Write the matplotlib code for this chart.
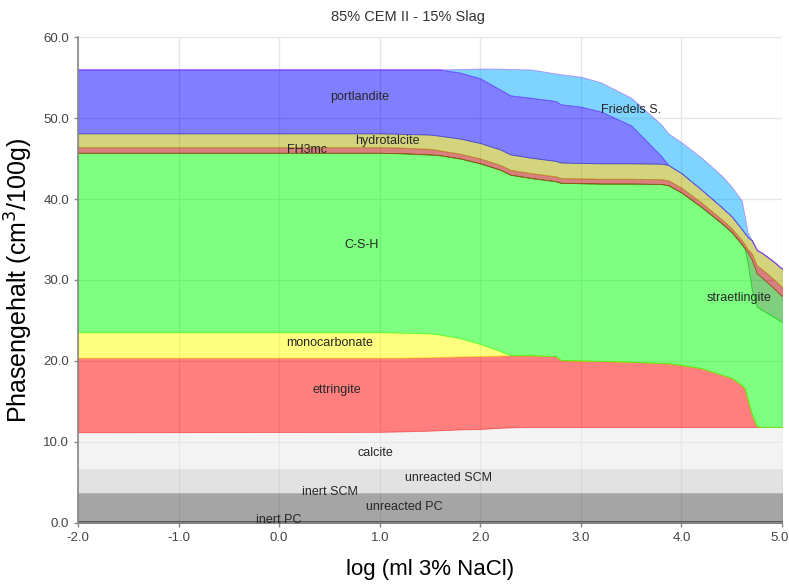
import numpy as np
import matplotlib
matplotlib.use('Agg')
import matplotlib.pyplot as plt
import matplotlib.transforms as mtransforms

plt.rcParams['font.family'] = ['Liberation Sans', 'DejaVu Sans']

# x positions: log (ml 3% NaCl)
log_nacl = [-2.0, 1.0, 1.2, 1.5, 1.6, 1.8, 2.0, 2.2, 2.3, 2.5, 2.75, 2.8, 3.0, 3.2,
            3.5, 3.8, 3.87, 4.0, 4.2, 4.4, 4.5, 4.6, 4.63, 4.66, 4.7, 4.75, 4.8, 4.9, 5.0]

# phase contents (cm3/100g), bottom to top
inert_pc = [0.3] * 29
unreacted_pc = [3.35] * 29
inert_scm = [0.05] * 29
unreacted_scm = [2.95] * 29
calcite = [4.55, 4.6, 4.65, 4.75, 4.8, 4.9, 4.95, 5.1, 5.15, 5.2, 5.2, 5.2, 5.2, 5.2,
           5.2, 5.2, 5.2, 5.2, 5.2, 5.2, 5.2, 5.2, 5.2, 5.2, 5.2, 5.2, 5.2, 5.2, 5.2]
ettringite = [9.2, 9.15, 9.1, 9.05, 9.05, 9.0, 9.0, 8.9, 8.9, 8.85, 8.75, 8.25, 8.2, 8.15,
              8.05, 7.9, 7.85, 7.65, 7.25, 6.45, 6.05, 5.15, 4.75, 3.35, 1.55, 0.1, 0.0, 0.0, 0.0]
monocarbonate = [3.15, 3.15, 3.1, 2.95, 2.75, 2.25, 1.5, 0.55, 0.0, 0.0, 0.0, 0.0, 0.0, 0.0,
                 0.0, 0.0, 0.0, 0.0, 0.0, 0.0, 0.0, 0.0, 0.0, 0.0, 0.0, 0.0, 0.0, 0.0, 0.0]
csh = [22.15, 22.15, 22.15, 22.1, 22.15, 22.2, 22.3, 22.4, 22.3, 21.9, 21.6, 21.9, 21.9, 21.9,
       22.0, 22.1, 22.0, 21.3, 19.9, 18.7, 18.0, 17.4, 17.3, 16.8, 15.4, 14.75, 14.45, 13.75, 12.95]
straetlingite = [0.0] * 23 + [1.4, 3.7, 4.1, 4.0, 3.6, 3.2]
fh3mc = [0.7, 0.7, 0.7, 0.7, 0.6, 0.6, 0.6, 0.6, 0.6, 0.6, 0.6, 0.6, 0.6, 0.6,
         0.6, 0.6, 0.6, 0.6, 0.55, 0.5, 0.5, 0.5, 0.5, 0.4, 0.8, 1.0, 1.05, 1.1, 1.15]
hydrotalcite = [1.7, 1.7, 1.7, 1.75, 1.8, 1.85, 1.9, 1.9, 1.9, 1.9, 1.9, 1.9, 1.9, 1.9,
                1.9, 1.9, 1.9, 1.8, 1.6, 1.5, 1.45, 1.4, 1.4, 1.5, 1.6, 1.9, 2.0, 2.15, 2.25]
portlandite = [7.9, 7.9, 7.95, 8.05, 8.2, 8.15, 8.0, 7.4, 7.3, 7.4, 7.4, 7.2, 6.95, 6.4,
               4.7, 0.95, 0.0, 0.0, 0.0, 0.0, 0.0, 0.0, 0.0, 0.0, 0.0, 0.0, 0.0, 0.0, 0.0]
friedels = [0.0, 0.0, 0.0, 0.0, 0.0, 0.45, 1.2, 2.6, 3.25, 3.5, 3.4, 3.7, 3.7, 3.6,
            3.4, 3.9, 3.9, 3.8, 3.95, 3.9, 3.65, 3.5, 2.0, 0.5, 0.0, 0.0, 0.0, 0.0, 0.0]

phases = [inert_pc, unreacted_pc, inert_scm, unreacted_scm, calcite, ettringite,
          monocarbonate, csh, straetlingite, fh3mc, hydrotalcite, portlandite, friedels]
colors = ['#000000', '#4d4d4d', '#a0a0a0', '#c7c7c7', '#e9e9e9', '#ff0000',
          '#ffff00', '#00ff00', '#00a100', '#b30000', '#aaaa00', '#0000ff', '#00aaff']
edge_colors = ['#000000', '#4d4d4d', '#a0a0a0', '#c7c7c7', '#e9e9e9', '#ff0000',
               '#ffff00', '#00ff00', '#00c000', '#cc0000', '#aaaa00', '#0000ff', '#9933ff']

# labels and where they sit
label_names = ['inert PC', 'unreacted PC', 'inert SCM', 'unreacted SCM', 'calcite',
               'ettringite', 'monocarbonate', 'C-S-H', 'straetlingite', 'FH3mc',
               'hydrotalcite', 'portlandite', 'Friedels S.']
label_x = [0.0, 1.24, 0.5, 1.68, 0.96, 0.57, 0.5, 0.82, 4.57, 0.28, 1.08, 0.8, 3.5]
label_y = [0.4, 2.0, 3.8, 5.6, 8.6, 16.4, 22.2, 34.3, 27.8, 46.0, 47.2, 52.6, 51.0]

fig = plt.figure(figsize=(7.89, 5.84), dpi=100)
ax = fig.add_axes([0.0989, 0.1045, 0.8922, 0.8321])

x = np.array(log_nacl)
base = np.zeros(len(x))
for vals, c, ec in zip(phases, colors, edge_colors):
    top = base + np.array(vals)
    ax.fill_between(x, base, top, facecolor=c, edgecolor=ec, alpha=0.5,
                    linewidth=0.6, zorder=2)
    base = top

for name, lx, ly in zip(label_names, label_x, label_y):
    ax.text(lx, ly, name, ha='center', va='center', fontsize=9,
            color='#262626', zorder=5)

ax.set_xlim(-2, 5)
ax.set_ylim(0, 60)
ax.set_xticks(range(-2, 6))
ax.set_yticks(range(0, 61, 10))
ax.xaxis.set_major_formatter(matplotlib.ticker.FormatStrFormatter('%.1f'))
ax.yaxis.set_major_formatter(matplotlib.ticker.FormatStrFormatter('%.1f'))
ax.tick_params(labelsize=9.5, colors='#444444', length=3, width=1)
ax.tick_params(axis='both', color='#888888')
ax.grid(True, color='#e6e6e6', linewidth=1, zorder=0)
ax.set_axisbelow(True)

# keep the last x tick label inside the figure
fig.canvas.draw()
last = ax.get_xticklabels()[-1]
last.set_ha('right')
last.set_transform(last.get_transform() +
                   mtransforms.ScaledTranslation(0.07, 0, fig.dpi_scale_trans))

for side in ['top', 'right']:
    ax.spines[side].set_visible(False)
for side in ['left', 'bottom']:
    ax.spines[side].set_color('#888888')
    ax.spines[side].set_linewidth(1.2)

ax.set_xlabel('log (ml 3% NaCl)', fontsize=16, color='#000000', labelpad=11)
ax.set_ylabel('Phasengehalt (cm$^3$/100g)', fontsize=18, color='#000000', labelpad=6)
fig.text(0.517, 0.971, '85% CEM II - 15% Slag', ha='center', va='center',
         fontsize=10.5, color='#333333')

plt.savefig('out.png', dpi=100)
plt.close()
